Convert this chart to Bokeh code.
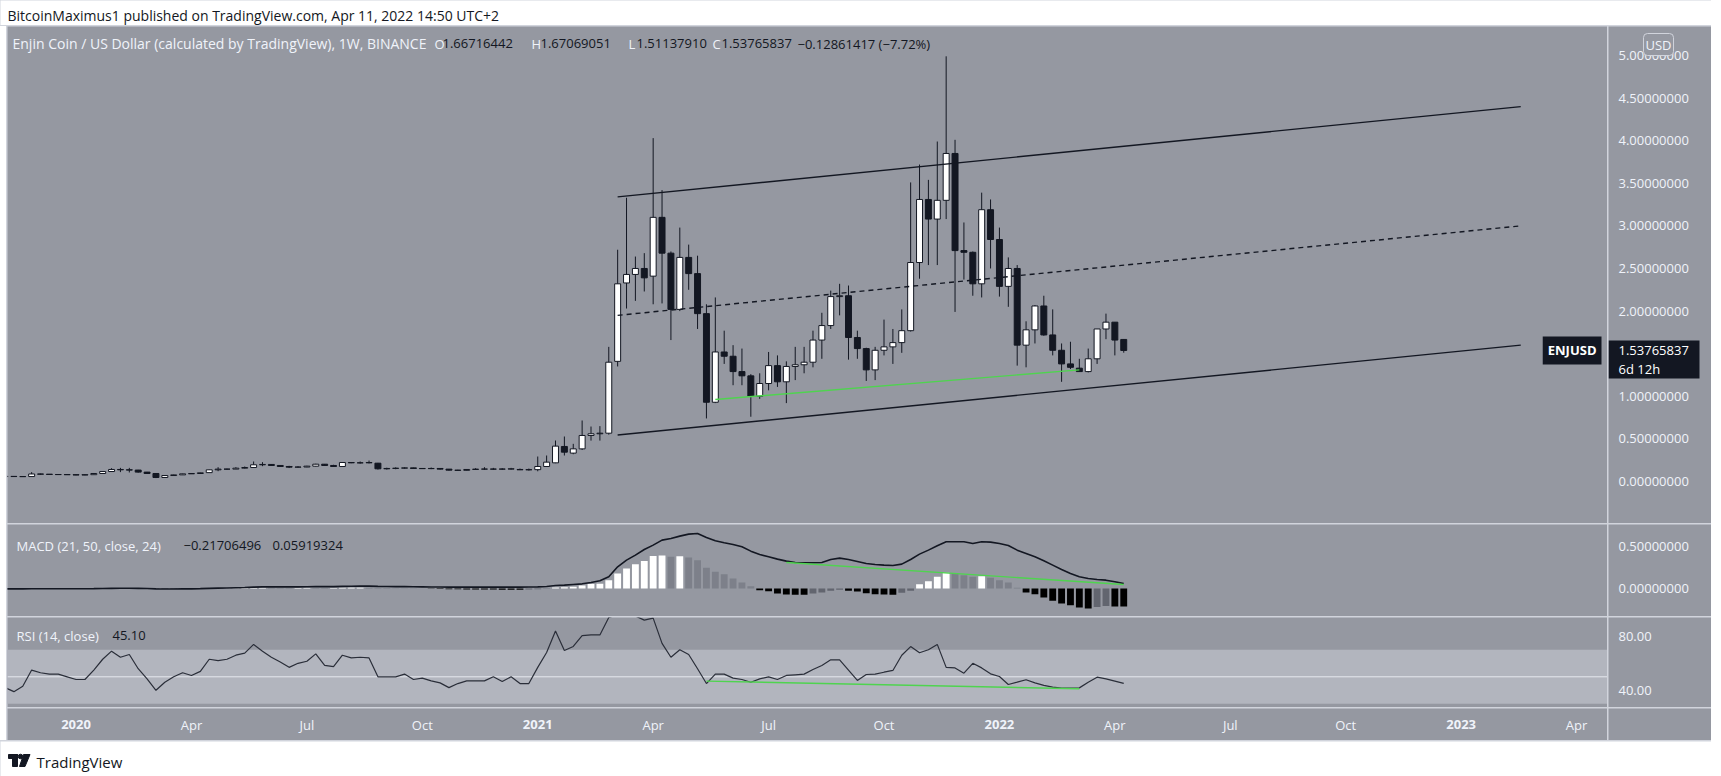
import numpy as np
import pandas as pd
from bokeh.plotting import figure
from bokeh.layouts import column, row
from bokeh.models import (ColumnDataSource, Range1d, Span, BoxAnnotation, Label, Spacer)
from bokeh.core.properties import value
from bokeh.embed import file_html
from bokeh.resources import INLINE

# ---------------------------------------------------------------- data
first_week = "2019-11-11"   # weekly bars, ENJ/USD (Binance)

opens = [
    0.062, 0.060, 0.058, 0.058, 0.088, 0.086, 0.082, 0.081, 0.080, 0.076,
    0.080, 0.094, 0.117, 0.141, 0.137, 0.134, 0.110, 0.094, 0.047, 0.070,
    0.078, 0.090, 0.094, 0.104, 0.137, 0.145, 0.145, 0.156, 0.164, 0.196,
    0.200, 0.188, 0.176, 0.168, 0.170, 0.180, 0.203, 0.188, 0.176, 0.223,
    0.219, 0.219, 0.215, 0.149, 0.153, 0.156, 0.160, 0.153, 0.151, 0.153,
    0.145, 0.133, 0.131, 0.141, 0.145, 0.146, 0.145, 0.146, 0.141, 0.137,
    0.139, 0.176, 0.219, 0.411, 0.333, 0.383, 0.540, 0.560, 0.567, 1.41,
    2.33, 2.43, 2.50, 2.41, 3.10, 2.68, 2.02, 2.63, 2.44, 1.97,
    0.93, 1.52, 1.47, 1.29, 1.24, 1.00, 1.15, 1.36, 1.17, 1.35,
    1.37, 1.40, 1.66, 1.83, 2.17, 2.18, 1.69, 1.56, 1.31, 1.54,
    1.58, 1.63, 1.77, 2.57, 3.31, 3.08, 3.30, 3.85, 2.71, 2.69,
    2.32, 3.19, 2.84, 2.29, 2.50, 1.60, 1.78, 2.06, 1.72, 1.54,
    1.38, 1.33, 1.29, 1.44, 1.79, 1.87, 1.66716442,
]
highs = [
    0.066, 0.063, 0.062, 0.110, 0.092, 0.088, 0.086, 0.085, 0.082, 0.086,
    0.096, 0.120, 0.156, 0.160, 0.160, 0.136, 0.112, 0.096, 0.072, 0.082,
    0.092, 0.098, 0.104, 0.140, 0.168, 0.150, 0.168, 0.176, 0.235, 0.227,
    0.205, 0.192, 0.184, 0.180, 0.184, 0.208, 0.205, 0.196, 0.225, 0.225,
    0.235, 0.246, 0.218, 0.162, 0.166, 0.168, 0.162, 0.158, 0.164, 0.158,
    0.147, 0.137, 0.145, 0.156, 0.168, 0.160, 0.156, 0.160, 0.152, 0.152,
    0.293, 0.305, 0.481, 0.528, 0.442, 0.716, 0.645, 0.650, 1.58, 2.72,
    3.33, 2.64, 2.68, 4.03, 3.42, 2.70, 2.98, 2.78, 2.65, 2.08,
    2.16, 1.77, 1.60, 1.56, 1.26, 1.27, 1.52, 1.48, 1.41, 1.58,
    1.58, 1.77, 1.98, 2.24, 2.32, 2.30, 1.77, 1.57, 1.58, 1.90,
    1.79, 2.02, 3.51, 3.72, 3.54, 3.99, 4.99, 4.01, 3.04, 2.70,
    3.39, 3.31, 2.98, 2.63, 2.54, 1.88, 2.07, 2.18, 2.02, 1.62,
    1.64, 1.44, 1.56, 1.79, 1.97, 1.87, 1.67069051,
]
lows = [
    0.056, 0.055, 0.054, 0.056, 0.080, 0.079, 0.078, 0.077, 0.074, 0.074,
    0.078, 0.092, 0.112, 0.110, 0.106, 0.104, 0.090, 0.040, 0.042, 0.068,
    0.076, 0.088, 0.092, 0.102, 0.121, 0.138, 0.145, 0.150, 0.164, 0.180,
    0.184, 0.172, 0.158, 0.160, 0.168, 0.176, 0.186, 0.170, 0.176, 0.215,
    0.210, 0.212, 0.140, 0.140, 0.144, 0.148, 0.150, 0.149, 0.145, 0.140,
    0.128, 0.128, 0.128, 0.136, 0.136, 0.138, 0.136, 0.140, 0.134, 0.128,
    0.120, 0.170, 0.215, 0.305, 0.320, 0.370, 0.480, 0.480, 0.550, 1.35,
    2.03, 2.12, 2.23, 2.08, 2.09, 1.66, 2.00, 2.25, 1.79, 0.74,
    0.92, 1.38, 1.13, 1.13, 0.76, 0.97, 1.07, 1.11, 0.92, 1.19,
    1.27, 1.34, 1.44, 1.79, 1.95, 1.43, 1.44, 1.18, 1.19, 1.48,
    1.38, 1.51, 1.76, 2.38, 2.54, 2.54, 3.08, 1.99, 2.37, 2.18,
    2.16, 2.50, 2.17, 2.05, 1.36, 1.34, 1.62, 1.71, 1.48, 1.17,
    1.32, 1.29, 1.28, 1.38, 1.67, 1.48, 1.51137910,
]
closes = [
    0.058, 0.058, 0.057, 0.088, 0.086, 0.082, 0.081, 0.080, 0.076, 0.080,
    0.094, 0.117, 0.141, 0.137, 0.134, 0.110, 0.094, 0.047, 0.070, 0.078,
    0.090, 0.094, 0.102, 0.137, 0.145, 0.145, 0.156, 0.164, 0.196, 0.200,
    0.188, 0.176, 0.168, 0.170, 0.180, 0.203, 0.188, 0.176, 0.223, 0.219,
    0.219, 0.223, 0.149, 0.153, 0.156, 0.160, 0.153, 0.151, 0.153, 0.145,
    0.133, 0.131, 0.141, 0.145, 0.146, 0.145, 0.146, 0.149, 0.137, 0.139,
    0.176, 0.227, 0.415, 0.344, 0.383, 0.540, 0.560, 0.567, 1.40, 2.32,
    2.43, 2.50, 2.39, 3.10, 2.68, 2.02, 2.63, 2.44, 1.97, 0.93,
    1.52, 1.47, 1.29, 1.24, 1.00, 1.15, 1.36, 1.17, 1.35, 1.37,
    1.40, 1.66, 1.83, 2.17, 2.18, 1.69, 1.56, 1.31, 1.54, 1.58,
    1.63, 1.77, 2.57, 3.31, 3.08, 3.30, 3.85, 2.71, 2.69, 2.32,
    3.19, 2.84, 2.29, 2.50, 1.60, 1.78, 2.06, 1.72, 1.54, 1.38,
    1.34, 1.29, 1.44, 1.79, 1.87, 1.66, 1.53765837,
]
macd_hist = [
    -0.002, -0.002, -0.002, -0.003, -0.003, -0.003, -0.003, -0.003, -0.003, -0.003,
    -0.002, -0.001, 0.000, 0.001, 0.001, 0.000, -0.001, -0.003, -0.004, -0.004,
    -0.003, -0.002, -0.001, 0.001, 0.002, 0.003, 0.004, 0.006, 0.008, 0.009,
    0.008, 0.007, 0.006, 0.006, 0.007, 0.006, 0.005, 0.006, 0.008, 0.009,
    0.010, 0.009, 0.007, 0.005, 0.004, 0.003, 0.002, 0.001, -0.004, -0.006,
    -0.008, -0.010, -0.011, -0.012, -0.013, -0.013, -0.014, -0.014, -0.015, -0.012,
    -0.008, -0.004, 0.012, 0.016, 0.020, 0.036, 0.054, 0.056, 0.100, 0.180,
    0.240, 0.290, 0.330, 0.390, 0.396, 0.380, 0.388, 0.372, 0.340, 0.248,
    0.200, 0.172, 0.120, 0.072, 0.028, -0.020, -0.032, -0.060, -0.072, -0.074,
    -0.075, -0.060, -0.048, -0.028, -0.016, -0.028, -0.036, -0.056, -0.068, -0.072,
    -0.074, -0.052, -0.028, 0.052, 0.088, 0.140, 0.188, 0.180, 0.160, 0.140,
    0.148, 0.128, 0.100, 0.072, 0.008, -0.048, -0.068, -0.108, -0.148, -0.180,
    -0.200, -0.228, -0.240, -0.222, -0.210, -0.215, -0.21706496,
]
macd_line = [
    -0.004, -0.004, -0.004, -0.003, -0.003, -0.003, -0.003, -0.003, -0.003, -0.003,
    -0.002, 0.000, 0.002, 0.003, 0.003, 0.002, 0.000, -0.004, -0.006, -0.006,
    -0.005, -0.004, -0.002, 0.001, 0.004, 0.006, 0.009, 0.012, 0.016, 0.019,
    0.020, 0.020, 0.020, 0.020, 0.021, 0.022, 0.022, 0.023, 0.025, 0.027,
    0.028, 0.029, 0.026, 0.024, 0.023, 0.022, 0.021, 0.020, 0.018, 0.018,
    0.017, 0.016, 0.016, 0.016, 0.016, 0.016, 0.016, 0.016, 0.016, 0.018,
    0.020, 0.024, 0.036, 0.040, 0.048, 0.056, 0.072, 0.092, 0.140, 0.260,
    0.340, 0.400, 0.468, 0.520, 0.580, 0.600, 0.628, 0.652, 0.660, 0.612,
    0.572, 0.548, 0.528, 0.500, 0.448, 0.408, 0.380, 0.352, 0.328, 0.312,
    0.308, 0.308, 0.312, 0.348, 0.364, 0.348, 0.324, 0.300, 0.288, 0.280,
    0.276, 0.292, 0.348, 0.412, 0.460, 0.512, 0.560, 0.560, 0.560, 0.540,
    0.560, 0.556, 0.540, 0.516, 0.460, 0.420, 0.380, 0.332, 0.280, 0.228,
    0.180, 0.140, 0.120, 0.108, 0.100, 0.080, 0.05919324,
]
rsi = [
    42, 39, 43, 55, 53, 52, 52, 50, 48, 48,
    55, 63, 69, 64.5, 66.5, 56, 48.5, 40, 46, 50,
    53, 51, 54, 63, 62, 63, 66, 67.5, 74, 69,
    64.5, 61, 57, 60, 61.5, 67, 58.5, 57.5, 66, 64,
    64.5, 64, 50, 50, 50, 52, 48, 49, 47, 45.5,
    42, 45, 47, 47, 47, 50, 46.5, 50, 45, 45,
    57, 68, 84, 69.5, 72.5, 80.5, 81, 81, 94, 96,
    97, 95, 92, 93.5, 74.8, 64.5, 70, 66.5, 56, 45,
    52, 52, 49, 48, 46, 48.5, 50, 48, 51, 51.5,
    52, 55.4, 58.4, 62.6, 62.6, 55, 47.3, 51.7, 52, 53.4,
    54.7, 66, 72.4, 67.8, 70, 74, 57, 56.6, 52.7, 60,
    56.6, 52.2, 50.2, 44.3, 46, 47.8, 45.5, 43.6, 42.3, 41.6,
    41.6, 41.8, 46, 49.7, 48.5, 46.8, 45.1,
]

tick_dates = ["2020-01-06", "2020-04-06", "2020-07-06", "2020-10-05",
              "2021-01-04", "2021-04-05", "2021-07-05", "2021-10-04",
              "2022-01-03", "2022-04-04", "2022-07-04", "2022-10-03",
              "2023-01-02", "2023-04-03"]
tick_labels = ["2020", "Apr", "Jul", "Oct", "2021", "Apr", "Jul", "Oct",
               "2022", "Apr", "Jul", "Oct", "2023", "Apr"]
price_ticks = [0.0, 0.5, 1.0, 2.0, 2.5, 3.0, 3.5, 4.0, 4.5, 5.0]
macd_ticks = [0.0, 0.5]
rsi_ticks = [40, 80]

channel_dates = ["2021-03-08", "2023-02-18"]
channel_upper = [3.34, 4.40]
channel_mid = [1.95, 3.00]
channel_lower = [0.545, 1.60]
support_dates = ["2021-05-24", "2022-03-07"]
support_vals = [0.962, 1.31]
macd_trend_dates = ["2021-07-19", "2022-04-11"]
macd_trend_vals = [0.312, 0.048]
rsi_trend_dates = ["2021-05-17", "2022-03-07"]
rsi_trend_vals = [46.8, 41.1]

# ---------------------------------------------------------------- style
BG = "#9598a1"
BAND = "#b2b5be"
SEP = "#d1d4dc"
LIGHT = "#f0f3fa"
DARK = "#131722"
GREEN = "#4fd44f"
FONT = "Open Sans"

FULL_W = 1711
PLOT_W = 1600        # page x 7 .. 1607
AX_W = 103           # page x 1608 .. 1711
DAY = 86400000.0
SEP_STYLE = {"background-color": SEP}


def ms(ts):
    return pd.Timestamp(ts).value / 1e6


XS, XE = ms("2019-11-12 23:00"), ms("2023-04-27 09:36")


def at_px(px):
    """date (ms) for a page x position inside the plot frames"""
    return XS + (px - 7) / PLOT_W * (XE - XS)


xr = Range1d(XS, XE)
dates = pd.date_range(first_week, periods=len(closes), freq="7D")
o = np.array(opens)
c = np.array(closes)
up = c >= o


def plain(width, height, xrange, yrange, fill):
    p = figure(width=width, height=height, x_range=xrange, y_range=yrange,
               output_backend="svg", toolbar_location=None,
               x_axis_location=None, y_axis_location=None, min_border=0,
               background_fill_color=fill, border_fill_color=fill,
               outline_line_color=None)
    p.grid.visible = False
    return p


def pane(height, y0, y1):
    yr = Range1d(y0, y1)
    p = figure(width=PLOT_W, height=height, x_axis_type="datetime", x_range=xr,
               y_range=yr, output_backend="svg", toolbar_location=None,
               x_axis_location=None, y_axis_location=None, min_border=0,
               background_fill_color=BG, border_fill_color=BG,
               outline_line_color=None)
    p.grid.visible = False
    ax = plain(AX_W, height, Range1d(0, AX_W), yr, BG)
    return p, ax


def scale_labels(ax, ticks, fmt):
    ax.text(x=[10] * len(ticks), y=ticks, text=[fmt % t for t in ticks],
            text_font=value(FONT), text_font_size="13px", text_color=LIGHT,
            text_baseline="middle", text_align="left")


def lab(p, x, y, text, color=LIGHT, size="13px", style="normal", align="left",
        baseline="middle", **kw):
    p.add_layout(Label(x=x, y=y, text=text, text_color=color, text_font=FONT,
                       text_font_size=size, text_font_style=style,
                       text_align=align, text_baseline=baseline, **kw))


# ---------------------------------------------------------------- header
hdr = plain(FULL_W, 25, Range1d(0, FULL_W), Range1d(0, 25), "white")
lab(hdr, 7, 10, "BitcoinMaximus1 published on TradingView.com, Apr 11, 2022 14:50 UTC+2",
    color=DARK, size="14px")

# ---------------------------------------------------------------- price pane
M_TOP, M_BOT = 5.34, -0.493     # page y 26 .. 523
M_PX = 497 / (M_TOP - M_BOT)    # pixels per dollar


def main_y(py):
    return M_TOP - (py - 26) / M_PX


main, main_ax = pane(497, M_BOT, M_TOP)
main.segment(x0=dates, y0=lows, x1=dates, y1=highs, line_color=DARK, line_width=1)
body_w = 4.7 * DAY
src_up = ColumnDataSource(dict(x=dates[up], top=c[up], bottom=o[up]))
src_dn = ColumnDataSource(dict(x=dates[~up], top=o[~up], bottom=c[~up]))
main.vbar(x="x", top="top", bottom="bottom", width=body_w, source=src_up,
          fill_color="white", line_color=DARK, line_width=1)
main.vbar(x="x", top="top", bottom="bottom", width=body_w, source=src_dn,
          fill_color=DARK, line_color=DARK, line_width=1)

cd = pd.to_datetime(channel_dates)
main.line(cd, channel_upper, line_color=DARK, line_width=1.4)
main.line(cd, channel_lower, line_color=DARK, line_width=1.4)
main.line(cd, channel_mid, line_color=DARK, line_width=1.4, line_dash="5 4")
main.line(pd.to_datetime(support_dates), support_vals, line_color=GREEN, line_width=1.4)

ly = main_y(43)
lab(main, at_px(12), ly, "Enjin Coin / US Dollar (calculated by TradingView), 1W, BINANCE", size="14px")
for px, letter, vpx, val in [(434, "O", 442, "1.66716442"), (531, "H", 540, "1.67069051"),
                             (628, "L", 636, "1.51137910"), (712, "C", 721, "1.53765837")]:
    lab(main, at_px(px), ly, letter, color=LIGHT, size="13px")
    lab(main, at_px(vpx), ly, val, color=DARK, size="13px")
lab(main, at_px(797), ly, "\u22120.12861417 (\u22127.72%)", color=DARK, size="13px")

last = closes[-1]
lab(main, at_px(1601), last, "ENJUSD", color="white", size="13px", style="bold",
    align="right", background_fill_color=DARK, padding=5)

scale_labels(main_ax, price_ticks, "%.8f")
main_ax.quad(left=[0], right=[91], top=[last + 10 / M_PX], bottom=[last - 28 / M_PX],
             fill_color=DARK, line_color=None)
lab(main_ax, 10, last, "1.53765837", color="white")
lab(main_ax, 10, last - 19 / M_PX, "6d 12h", color="white")
lab(main_ax, 50, main_y(44), "USD", color=LIGHT, align="center",
    background_fill_color=BG, border_line_color=SEP, border_radius=4, padding=2)

# ---------------------------------------------------------------- MACD pane
D_TOP, D_BOT = 0.7674, -0.3357   # page y 524 .. 616
macd, macd_ax = pane(92, D_BOT, D_TOP)
hist_colors = []
prev = 0.0
for h in macd_hist:
    if h >= 0:
        hist_colors.append("#ffffff" if h >= prev else "#7d808a")
    else:
        hist_colors.append("#000000" if h <= prev else "#62656f")
    prev = h
macd.vbar(x=dates, top=macd_hist, bottom=0, width=5.4 * DAY, fill_color=hist_colors,
          line_color=None)
macd.line(dates, macd_line, line_color=DARK, line_width=1.6)
macd.line(pd.to_datetime(macd_trend_dates), macd_trend_vals, line_color=GREEN, line_width=1.4)
my = D_TOP - (545 - 524) / 92 * (D_TOP - D_BOT)
lab(macd, at_px(16), my, "MACD (21, 50, close, 24)")
lab(macd, at_px(183), my, "\u22120.21706496", color=DARK)
lab(macd, at_px(272), my, "0.05919324", color=DARK)
scale_labels(macd_ax, macd_ticks, "%.8f")

# ---------------------------------------------------------------- RSI pane
R_TOP, R_BOT = 93.93, 27.26      # page y 617 .. 707
rsip, rsi_ax = pane(90, R_BOT, R_TOP)
rsip.add_layout(BoxAnnotation(bottom=30, top=70, fill_color=BAND, fill_alpha=1,
                              line_color=None, level="underlay"))
rsip.add_layout(Span(location=50, dimension="width", line_color="#e6e8ee",
                     line_width=1, level="underlay"))
rsip.line(dates, rsi, line_color="#2a2e39", line_width=1.2)
rsip.line(pd.to_datetime(rsi_trend_dates), rsi_trend_vals, line_color=GREEN, line_width=1.4)
ry = R_TOP - (635 - 617) / 90 * (R_TOP - R_BOT)
lab(rsip, at_px(16), ry, "RSI (14, close)")
lab(rsip, at_px(112), ry, "45.10", color=DARK)
scale_labels(rsi_ax, rsi_ticks, "%.2f")

# ---------------------------------------------------------------- time scale
tfig = figure(width=PLOT_W, height=32, x_axis_type="datetime", x_range=xr,
              y_range=Range1d(0, 32), output_backend="svg", toolbar_location=None,
              x_axis_location=None, y_axis_location=None, min_border=0,
              background_fill_color=BG, border_fill_color=BG, outline_line_color=None)
tfig.grid.visible = False
tdt = pd.to_datetime(tick_dates)
is_year = np.array([l[0].isdigit() for l in tick_labels])
lbl = np.array(tick_labels)
tfig.text(x=tdt[is_year], y=[16] * int(is_year.sum()), text=list(lbl[is_year]),
          text_font=value(FONT), text_font_size="13px", text_font_style="bold",
          text_color=LIGHT, text_align="center", text_baseline="middle")
tfig.text(x=tdt[~is_year], y=[16] * int((~is_year).sum()), text=list(lbl[~is_year]),
          text_font=value(FONT), text_font_size="13px",
          text_color=LIGHT, text_align="center", text_baseline="middle")
corner = plain(AX_W, 32, Range1d(0, 1), Range1d(0, 1), BG)

# ---------------------------------------------------------------- footer
ftr = plain(FULL_W, 35, Range1d(0, FULL_W), Range1d(0, 35), "white")
ftr.quad(left=[8, 12], right=[17, 17], bottom=[18, 10], top=[22, 22], color=DARK)
ftr.scatter(x=[20], y=[20], size=4.5, color=DARK)
ftr.patch(x=[23, 29.5, 24.5, 19], y=[22, 22, 10, 10], color=DARK)
lab(ftr, 36, 15, "TradingView", color=DARK, size="15px")

# ---------------------------------------------------------------- layout
panes = column(row(main, main_ax, spacing=1, styles=SEP_STYLE),
               row(macd, macd_ax, spacing=1, styles=SEP_STYLE),
               row(rsip, rsi_ax, spacing=1, styles=SEP_STYLE),
               row(tfig, corner, spacing=1, styles=SEP_STYLE),
               spacing=1, styles=SEP_STYLE)
mid = row(Spacer(width=6, height=714, styles={"background-color": "white"}), panes,
          spacing=1, styles=SEP_STYLE)
layout = column(hdr, mid, ftr, spacing=1, styles=SEP_STYLE)

open("out.html", "w").write(file_html(layout, INLINE))
